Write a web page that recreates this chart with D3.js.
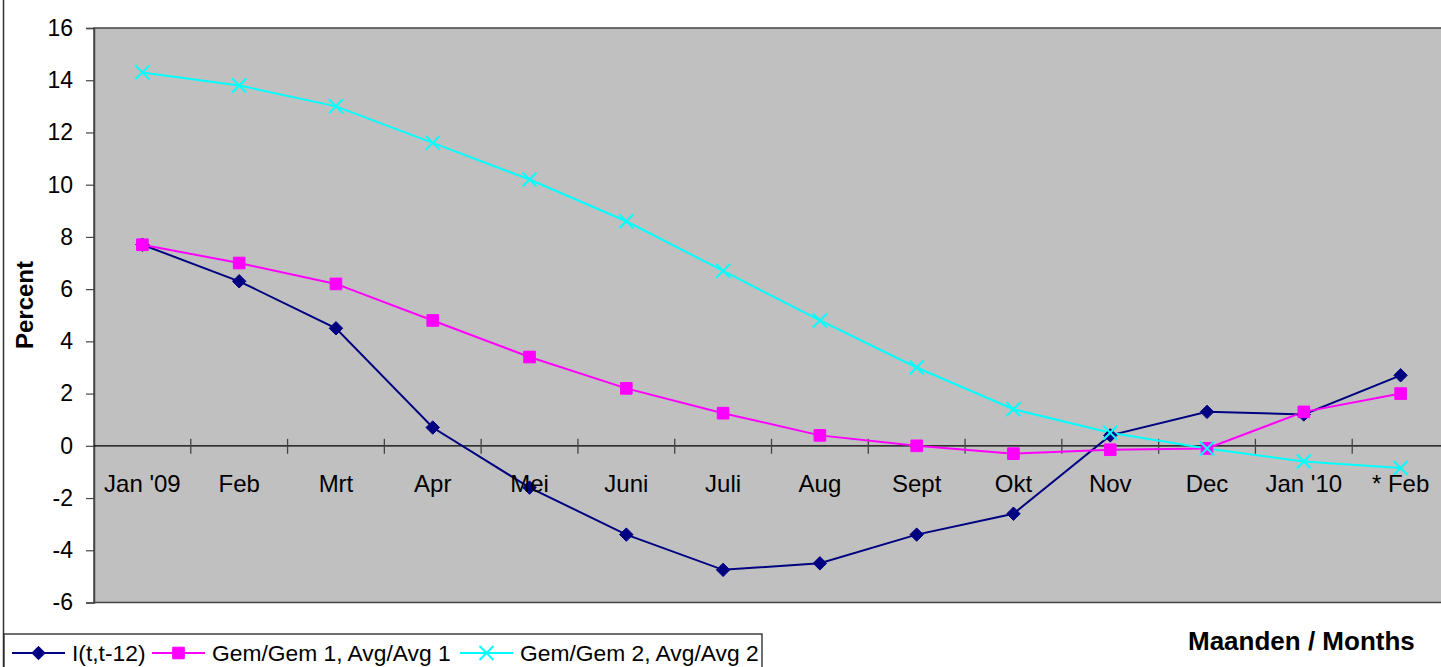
<!DOCTYPE html>
<html>
<head>
<meta charset="utf-8">
<script src="https://cdn.jsdelivr.net/npm/d3@7"></script>
<style>
  body { margin: 0; background: #fff; }
  svg { display: block; font-family: "Liberation Sans", Arial, sans-serif; }
</style>
</head>
<body>
<svg width="1441" height="667"></svg>
<script>
"use strict";

const months = ["Jan '09", "Feb", "Mrt", "Apr", "Mei", "Juni", "Juli", "Aug", "Sept", "Okt", "Nov", "Dec", "Jan '10", "* Feb"];
const yTicks = [-6, -4, -2, 0, 2, 4, 6, 8, 10, 12, 14, 16];

const index12 = [7.7, 6.3, 4.5, 0.7, -1.6, -3.4, -4.75, -4.5, -3.4, -2.6, 0.4, 1.3, 1.2, 2.7];
const avg1 = [7.7, 7.0, 6.2, 4.8, 3.4, 2.2, 1.25, 0.4, 0.0, -0.3, -0.15, -0.1, 1.3, 2.0];
const avg2 = [14.3, 13.8, 13.0, 11.6, 10.2, 8.6, 6.7, 4.8, 3.0, 1.4, 0.5, -0.1, -0.6, -0.85];

const seriesNames = ["I(t,t-12)", "Gem/Gem 1, Avg/Avg 1", "Gem/Gem 2, Avg/Avg 2"];

const series = [
  { name: seriesNames[0], values: index12, color: "#000080", marker: "diamond" },
  { name: seriesNames[1], values: avg1, color: "#ff00ff", marker: "square" },
  { name: seriesNames[2], values: avg2, color: "#00ffff", marker: "cross" }
];

const svg = d3.select("svg");
const plotLeft = 94, plotRight = 1449, plotTop = 28, plotBottom = 602.5;

const x = d3.scaleBand().domain(months).range([plotLeft, plotRight]);
const y = d3.scaleLinear().domain([-6, 16]).range([plotBottom, plotTop]);

// outer frame (left edge visible)
svg.append("line")
  .attr("x1", 3.5).attr("x2", 3.5).attr("y1", 0).attr("y2", 667)
  .attr("stroke", "#333").attr("stroke-width", 1.5);

// plot area
svg.append("rect")
  .attr("x", plotLeft).attr("y", plotTop)
  .attr("width", plotRight - plotLeft).attr("height", plotBottom - plotTop)
  .attr("fill", "#c0c0c0")
  .attr("stroke", "#444").attr("stroke-width", 1.5);

// y axis
const yAxis = svg.append("g")
  .attr("transform", `translate(${plotLeft},0)`)
  .call(d3.axisLeft(y).tickValues(yTicks).tickSize(8).tickPadding(13).tickFormat(d => String(d)));
yAxis.select(".domain").attr("stroke", "#444").attr("stroke-width", 1.5);
yAxis.selectAll(".tick line").attr("stroke", "#444").attr("stroke-width", 1.2);
yAxis.selectAll(".tick text")
  .attr("font-size", 23).attr("fill", "#000")
  .attr("font-family", "Liberation Sans, Arial, sans-serif");

// x axis at zero, ticks between categories crossing the line
svg.append("line")
  .attr("x1", plotLeft).attr("x2", plotRight)
  .attr("y1", y(0)).attr("y2", y(0))
  .attr("stroke", "#000").attr("stroke-width", 1.3);

svg.append("g").selectAll("line")
  .data(months.slice(1))
  .join("line")
  .attr("x1", d => x(d)).attr("x2", d => x(d))
  .attr("y1", y(0) - 7).attr("y2", y(0) + 8)
  .attr("stroke", "#444").attr("stroke-width", 1.3);

// series lines
const line = d3.line()
  .x((d, i) => x(months[i]) + x.bandwidth() / 2)
  .y(d => y(d));

const markerShape = {
  diamond: d3.symbol().type(d3.symbolDiamond2).size(115),
  square: d3.symbol().type(d3.symbolSquare).size(135),
  cross: d3.symbol().type(d3.symbolTimes).size(130)
};

function drawMarker(g, s) {
  const p = g.append("path").attr("d", markerShape[s.marker]());
  if (s.marker === "cross") {
    p.attr("fill", "none").attr("stroke", s.color).attr("stroke-width", 2);
  } else {
    p.attr("fill", s.color).attr("stroke", s.color).attr("stroke-width", 1);
  }
  return p;
}

const plot = svg.append("g");
series.forEach(s => {
  plot.append("path")
    .datum(s.values)
    .attr("d", line)
    .attr("fill", "none")
    .attr("stroke", s.color)
    .attr("stroke-width", 2);
});
series.forEach(s => {
  s.values.forEach((v, i) => {
    const g = plot.append("g")
      .attr("transform", `translate(${x(months[i]) + x.bandwidth() / 2},${y(v)})`);
    drawMarker(g, s);
  });
});

// category labels
svg.append("g").selectAll("text")
  .data(months)
  .join("text")
  .attr("x", d => x(d) + x.bandwidth() / 2)
  .attr("y", 492)
  .attr("text-anchor", "middle")
  .attr("font-size", 24)
  .text(d => d);

// axis titles
svg.append("text")
  .attr("transform", "translate(33,305) rotate(-90)")
  .attr("text-anchor", "middle")
  .attr("font-size", 24)
  .attr("font-weight", "bold")
  .text("Percent");

svg.append("text")
  .attr("x", 1188).attr("y", 650)
  .attr("font-size", 26)
  .attr("font-weight", "bold")
  .text("Maanden / Months");

// legend
svg.append("rect")
  .attr("x", 4).attr("y", 634)
  .attr("width", 758).attr("height", 60)
  .attr("fill", "#fff").attr("stroke", "#222").attr("stroke-width", 1.3);

const legendX = [12, 152, 460];
series.forEach((s, i) => {
  const g = svg.append("g").attr("transform", `translate(${legendX[i]},653)`);
  g.append("line").attr("x1", 0).attr("x2", 53).attr("y1", 0).attr("y2", 0)
    .attr("stroke", s.color).attr("stroke-width", 2);
  drawMarker(g.append("g").attr("transform", "translate(26.5,0)"), s);
  g.append("text")
    .attr("x", 60).attr("y", 8)
    .attr("font-size", 22.8)
    .text(s.name);
});
</script>
</body>
</html>
